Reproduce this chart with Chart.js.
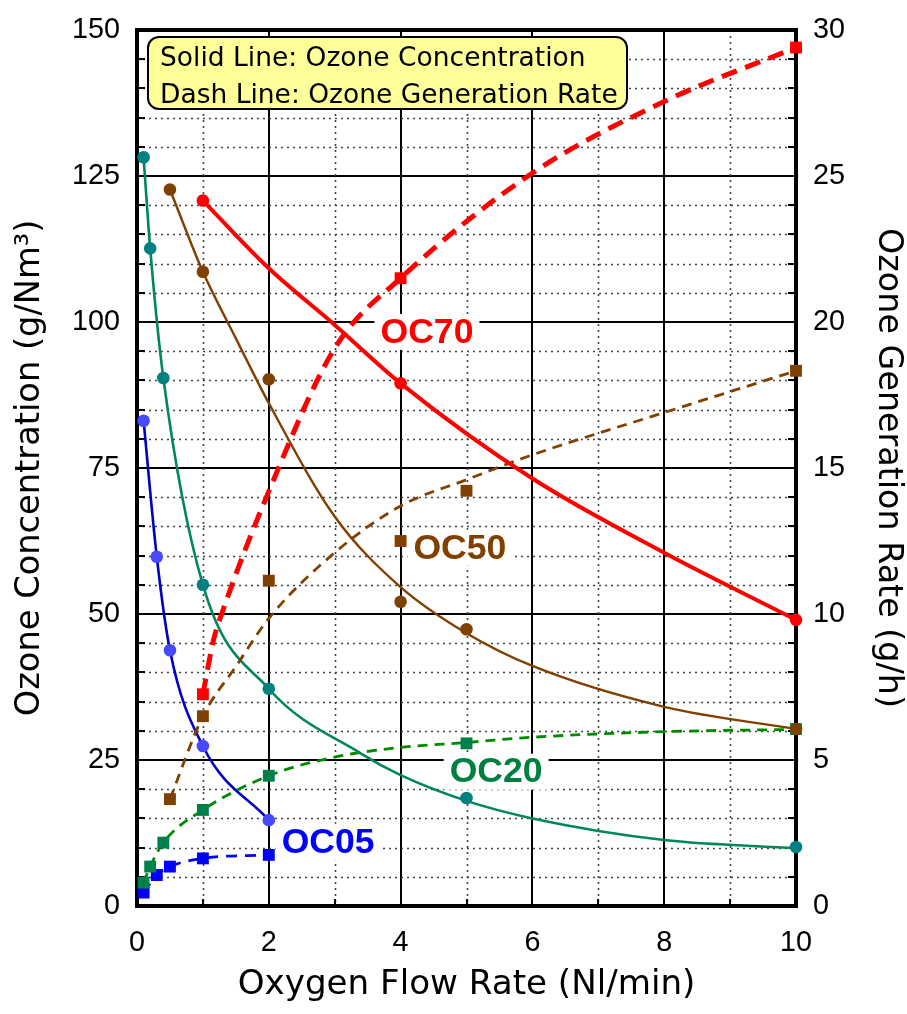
<!DOCTYPE html>
<html><head><meta charset="utf-8">
<script src="https://cdn.jsdelivr.net/npm/chart.js@4.4.0/dist/chart.umd.min.js"></script>
<style>html,body{margin:0;padding:0;background:#fff;}#wrap{width:907px;height:1014px;}</style>
</head><body><div id="wrap"><canvas id="c" width="907" height="1014"></canvas></div>
<script>
// ---------- DATA ----------
// x: Oxygen Flow Rate (Nl/min); conc: Ozone Concentration (g/Nm3, left axis); rate: Ozone Generation Rate (g/h, right axis)
const oc70ConcX = [1, 4, 10];
const oc70Conc  = [120.8, 89.5, 49.0];
const oc70ConcCurveX = [1, 2, 3, 4, 6, 8, 10];
const oc70ConcCurve  = [120.8, 109.2, 99.5, 89.5, 73.2, 60.5, 49.0];
const oc70RateX = [1, 4, 10];
const oc70Rate  = [7.25, 21.5, 29.4];
const oc70RateCurveX = [1, 1.16, 1.3, 2, 3, 4, 6, 8, 10];
const oc70RateCurve  = [7.25, 9.1, 10.1, 14.2, 19.1, 21.5, 25.1, 27.55, 29.4];

const oc50ConcX = [0.5, 1, 2, 4, 5, 10];
const oc50Conc  = [122.7, 108.6, 90.2, 52.1, 47.4, 30.3];
const oc50ConcCurveX = [0.5, 1, 1.5, 2, 3, 4, 5, 6, 8, 10];
const oc50ConcCurve  = [122.7, 108.6, 97.2, 86.1, 66.7, 54.6, 46.7, 41.1, 34.1, 30.3];
const oc50RateX = [0.5, 1, 2, 4, 5, 10];
const oc50Rate  = [3.66, 6.5, 11.14, 12.5, 14.22, 18.33];
const oc50RateCurveX = [0.5, 1, 1.5, 2, 3, 4, 5, 6, 8, 10];
const oc50RateCurve  = [3.66, 6.5, 8.2, 9.85, 12.1, 13.7, 14.6, 15.45, 16.9, 18.33];

const oc20ConcX = [0.1, 0.2, 0.4, 1, 2, 5, 10];
const oc20Conc  = [128.2, 112.6, 90.4, 55.0, 37.2, 18.5, 10.1];
const oc20ConcCurveX = [0.1, 0.2, 0.4, 1, 2, 3.4, 4, 5, 6, 8, 10];
const oc20ConcCurve  = [128.2, 112.6, 90.4, 55.0, 37.2, 26.1, 22.4, 18.0, 15.0, 11.3, 9.9];
const oc20RateX = [0.1, 0.2, 0.4, 1, 2, 5, 10];
const oc20Rate  = [0.8, 1.35, 2.17, 3.29, 4.46, 5.57, 6.06];
const oc20RateCurveX = [0.1, 0.2, 0.4, 1, 2, 3, 4, 5, 6, 8, 10];
const oc20RateCurve  = [0.8, 1.35, 2.17, 3.29, 4.46, 5.1, 5.43, 5.6, 5.78, 5.97, 6.05];

const oc05ConcX = [0.1, 0.3, 0.5, 1, 2];
const oc05Conc  = [83.1, 59.8, 43.8, 27.4, 14.7];
const oc05RateX = [0.1, 0.3, 0.5, 1, 2];
const oc05Rate  = [0.46, 1.06, 1.35, 1.63, 1.75];

// axis ranges / ticks
const xRange = [0, 10];
const leftRange = [0, 150];
const rightRange = [0, 30];
const xTickLabels = [0, 2, 4, 6, 8, 10];
const leftTickLabels = [0, 25, 50, 75, 100, 125, 150];
const rightTickLabels = [0, 5, 10, 15, 20, 25, 30];

// text
const seriesLabels = ['OC70', 'OC50', 'OC20', 'OC05'];
const labelAnchorX = [4.40, 4.90, 5.45, 2.90];
const labelAnchorY = [98.3, 61.35, 23.0, 11.0];
const legendLines = ['Solid Line: Ozone Concentration', 'Dash Line: Ozone Generation Rate'];
const xTitle = 'Oxygen Flow Rate (Nl/min)';
const leftTitle = 'Ozone Concentration (g/Nm\u00B3)';
const rightTitle = 'Ozone Generation Rate (g/h)';

// ---------- helpers ----------
const pts = (xs, ys) => xs.map((x, i) => ({x, y: ys[i]}));
const mctx = document.createElement('canvas').getContext('2d');
function fitSize(text, font, weight, target) {
  mctx.font = weight + ' 100px ' + font;
  return 100 * target / mctx.measureText(text).width;
}
const DJ = '"DejaVu Sans"';
const LIB = '"Liberation Sans"';
const tickSize = fitSize('150', LIB, 'normal', 48);
const xTitleSize = fitSize(xTitle, DJ, 'normal', 458);
const leftTitleSize = fitSize(leftTitle, DJ, 'normal', 497);
const rightTitleSize = fitSize(rightTitle, DJ, 'normal', 480);
const legendSize = fitSize(legendLines[1], DJ, 'normal', 457);
const labelSize = fitSize('OC70', LIB, 'bold', 93);

const RED = '#FF0000', BROWN = '#804000';
const GREEN_LINE = '#00875A', GREEN_DASH = '#008A00', GREEN_PT = '#008080', GREEN_SQ = '#00804A';
const BLUE_LINE = '#0000C0', BLUE_PT = '#4848FF', BLUE_SQ = '#0000FF';
const labelColors = [RED, BROWN, '#008040', '#0000FF'];

function markers(data, color, style, axis) {
  const r = style === 'rect' ? 8.4 : 6.3;
  return { type: 'line', data, yAxisID: axis, showLine: false, clip: false,
    pointStyle: style, pointRadius: r, pointHoverRadius: r,
    pointBackgroundColor: color, pointBorderColor: color, pointBorderWidth: 0 };
}
function curve(data, color, width, dash, axis) {
  return { type: 'line', data, yAxisID: axis, borderColor: color, borderWidth: width, borderDash: dash,
    pointRadius: 0, fill: false, clip: false, cubicInterpolationMode: 'monotone', borderCapStyle: 'butt' };
}

const datasets = [
  // markers first so they are drawn on top
  markers(pts(oc70ConcX, oc70Conc), RED, 'circle', 'y'),
  markers(pts(oc70RateX, oc70Rate), RED, 'rect', 'y1'),
  markers(pts(oc50ConcX, oc50Conc), BROWN, 'circle', 'y'),
  markers(pts(oc50RateX, oc50Rate), BROWN, 'rect', 'y1'),
  markers(pts(oc20ConcX, oc20Conc), GREEN_PT, 'circle', 'y'),
  markers(pts(oc20RateX, oc20Rate), GREEN_SQ, 'rect', 'y1'),
  markers(pts(oc05ConcX, oc05Conc), BLUE_PT, 'circle', 'y'),
  markers(pts(oc05RateX, oc05Rate), BLUE_SQ, 'rect', 'y1'),
  curve(pts(oc70ConcCurveX, oc70ConcCurve), RED, 4, [], 'y'),
  curve(pts(oc70RateCurveX, oc70RateCurve), RED, 5, [16, 9], 'y1'),
  curve(pts(oc50ConcCurveX, oc50ConcCurve), BROWN, 2.4, [], 'y'),
  curve(pts(oc50RateCurveX, oc50RateCurve), BROWN, 2.8, [10, 7], 'y1'),
  curve(pts(oc20ConcCurveX, oc20ConcCurve), GREEN_LINE, 2.6, [], 'y'),
  curve(pts(oc20RateCurveX, oc20RateCurve), GREEN_DASH, 2.8, [10, 7], 'y1'),
  curve(pts(oc05ConcX, oc05Conc), BLUE_LINE, 2.6, [], 'y'),
  curve(pts(oc05RateX, oc05Rate), BLUE_SQ, 2.8, [11, 8], 'y1'),
];

function roundRect(ctx, x, y, w, h, r) {
  ctx.beginPath();
  ctx.moveTo(x + r, y); ctx.lineTo(x + w - r, y); ctx.arcTo(x + w, y, x + w, y + r, r);
  ctx.lineTo(x + w, y + h - r); ctx.arcTo(x + w, y + h, x + w - r, y + h, r);
  ctx.lineTo(x + r, y + h); ctx.arcTo(x, y + h, x, y + h - r, r);
  ctx.lineTo(x, y + r); ctx.arcTo(x, y, x + r, y, r); ctx.closePath();
}

const decor = {
  id: 'decor',
  beforeDatasetsDraw(chart) {
    const {ctx, chartArea: a, scales} = chart;
    const sx = scales.x, sy = scales.y, sy1 = scales.y1;
    ctx.save();
    // minor dotted grid
    ctx.strokeStyle = '#444'; ctx.lineWidth = 1.6; ctx.setLineDash([2, 4]);
    for (let v = leftRange[0] + 5; v < leftRange[1]; v += 5) {
      if (v % 25 === 0) continue;
      const y = Math.round(sy.getPixelForValue(v)) + 0.5;
      ctx.beginPath(); ctx.moveTo(a.left, y); ctx.lineTo(a.right, y); ctx.stroke();
    }
    for (let v = xRange[0] + 1; v < xRange[1]; v += 2) {
      const x = Math.round(sx.getPixelForValue(v)) + 0.5;
      ctx.beginPath(); ctx.moveTo(x, a.top); ctx.lineTo(x, a.bottom); ctx.stroke();
    }
    ctx.setLineDash([]);
    // series labels with white boxes
    ctx.font = 'bold ' + labelSize.toFixed(1) + 'px ' + LIB;
    ctx.textAlign = 'center'; ctx.textBaseline = 'middle';
    seriesLabels.forEach((t, i) => {
      const cx = sx.getPixelForValue(labelAnchorX[i]);
      const cy = sy.getPixelForValue(labelAnchorY[i]);
      const w = ctx.measureText(t).width;
      ctx.fillStyle = '#fff';
      ctx.fillRect(cx - w / 2 - 6, cy - 18, w + 12, 36);
      ctx.fillStyle = labelColors[i];
      ctx.fillText(t, cx, cy + 1);
    });
    // legend box
    const bx = a.left + 11, by = a.top + 7, bw = 479, bh = 72;
    roundRect(ctx, bx, by, bw, bh, 11);
    ctx.fillStyle = '#FFFF99'; ctx.fill();
    ctx.lineWidth = 2; ctx.strokeStyle = '#000'; ctx.stroke();
    ctx.fillStyle = '#000'; ctx.textAlign = 'left'; ctx.textBaseline = 'alphabetic';
    ctx.font = 'normal ' + legendSize.toFixed(1) + 'px ' + DJ;
    ctx.fillText(legendLines[0], bx + 12, by + 29);
    ctx.fillText(legendLines[1], bx + 12, by + 65.5);
    // frame
    ctx.lineWidth = 4; ctx.strokeStyle = '#000';
    ctx.strokeRect(a.left, a.top, a.right - a.left, a.bottom - a.top);
    // inward tick marks
    ctx.lineWidth = 2;
    ctx.beginPath();
    for (let v = leftRange[0]; v <= leftRange[1]; v += 5) {
      const y = Math.round(sy.getPixelForValue(v));
      ctx.moveTo(a.left, y); ctx.lineTo(a.left + 8, y);
    }
    for (let v = rightRange[0]; v <= rightRange[1]; v += 1) {
      const y = Math.round(sy1.getPixelForValue(v));
      ctx.moveTo(a.right, y); ctx.lineTo(a.right - 8, y);
    }
    for (let v = xRange[0]; v <= xRange[1]; v += 1) {
      const x = Math.round(sx.getPixelForValue(v));
      ctx.moveTo(x, a.bottom); ctx.lineTo(x, a.bottom - (v % 2 === 0 ? 9 : 7));
    }
    ctx.stroke();
    ctx.restore();
  }
};

const noPad = s => { s.paddingTop = 0; s.paddingBottom = 0; s.paddingLeft = 0; s.paddingRight = 0; };
const tickFont = {family: LIB, size: tickSize, weight: 'normal'};
new Chart(document.getElementById('c'), {
  type: 'line',
  data: {datasets},
  options: {
    responsive: false, animation: false, devicePixelRatio: 1,
    layout: {padding: {top: 30, left: 0, right: 0, bottom: 0}},
    plugins: {legend: {display: false}, tooltip: {enabled: false}},
    scales: {
      x: {
        type: 'linear', min: xRange[0], max: xRange[1],
        afterFit: s => { s.height = 108; noPad(s); },
        afterBuildTicks: s => { s.ticks = xTickLabels.map(v => ({value: v})); },
        ticks: {font: tickFont, color: '#000', padding: 20, maxRotation: 0, autoSkip: false},
        grid: {color: '#000', lineWidth: 2, drawTicks: false},
        border: {display: false},
        title: {display: true, text: xTitle, color: '#000',
          font: {family: DJ, size: xTitleSize, lineHeight: 1}, padding: {top: 0, bottom: 29 - xTitleSize / 2}}
      },
      y: {
        type: 'linear', position: 'left', min: leftRange[0], max: leftRange[1],
        afterFit: s => { s.width = 137; noPad(s); },
        afterBuildTicks: s => { s.ticks = leftTickLabels.map(v => ({value: v})); },
        ticks: {font: tickFont, color: '#000', padding: 17, autoSkip: false},
        grid: {color: '#000', lineWidth: 2, drawTicks: false},
        border: {display: false},
        title: {display: true, text: leftTitle, color: '#000',
          font: {family: DJ, size: leftTitleSize, lineHeight: 1}, padding: {top: 30 - leftTitleSize / 2, bottom: 0}}
      },
      y1: {
        type: 'linear', position: 'right', min: rightRange[0], max: rightRange[1],
        afterFit: s => { s.width = 111; noPad(s); },
        afterBuildTicks: s => { s.ticks = rightTickLabels.map(v => ({value: v})); },
        ticks: {font: tickFont, color: '#000', padding: 17, autoSkip: false},
        grid: {drawOnChartArea: false, drawTicks: false},
        border: {display: false},
        title: {display: true, text: rightTitle, color: '#000',
          font: {family: DJ, size: rightTitleSize, lineHeight: 1}, padding: {top: 19 - rightTitleSize / 2, bottom: 0}}
      }
    }
  },
  plugins: [decor]
});
</script></body></html>
